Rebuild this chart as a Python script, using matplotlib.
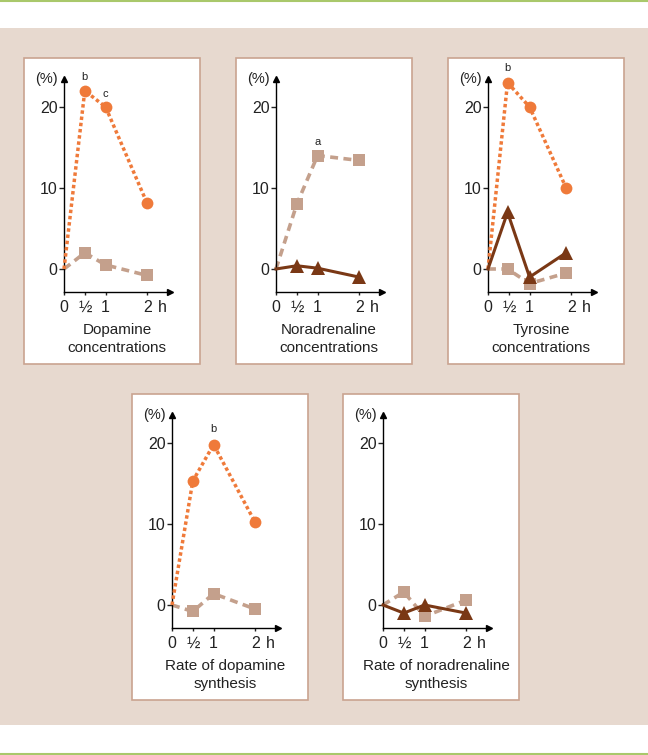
import matplotlib
matplotlib.use("Agg")
import matplotlib.pyplot as plt
from matplotlib.patches import Rectangle
from matplotlib.lines import Line2D

plt.rcParams['font.family'] = ['Liberation Sans', 'DejaVu Sans']

# data (percent change vs time in h)
times = [0, 0.5, 1, 2]
tyr_times = [0, 0.47, 1, 1.88]

dopa_conc_circle = [0, 22, 20, 8.1]
dopa_conc_square = [0, 2, 0.5, -0.8]

nora_conc_square = [0, 8, 14, 13.4]
nora_conc_tri = [0, 0.4, 0.1, -1]

tyr_conc_circle = [0, 23, 20, 10]
tyr_conc_tri = [0, 7, -1, 2]
tyr_conc_square = [0, 0, -1.8, -0.5]

dopa_rate_circle = [0, 15.3, 19.8, 10.2]
dopa_rate_square = [0, -0.8, 1.4, -0.5]

nora_rate_tri = [0, -1, 0, -1]
nora_rate_square = [0, 1.6, -1.4, 0.6]

titles = ["Dopamine\nconcentrations", "Noradrenaline\nconcentrations",
          "Tyrosine\nconcentrations", "Rate of dopamine\nsynthesis",
          "Rate of noradrenaline\nsynthesis"]

ORANGE = "#ef7a3a"
TAN = "#c4a08c"
BROWN = "#7a3815"
BEIGE = "#e7d9cf"
BORDER = "#c9a390"
GREEN = "#a9c86b"
TXT = "#222222"

W, H = 648, 755
fig = plt.figure(figsize=(W / 100, H / 100), dpi=100)
fig.patch.set_facecolor("white")


def fx(x):
    return x / W


def fy(y):
    return 1 - y / H


# background band and green rules
fig.patches.append(Rectangle((0, fy(725)), 1, (725 - 28) / H, transform=fig.transFigure,
                             facecolor=BEIGE, edgecolor="none", zorder=-3))
fig.lines.append(Line2D([0, 1], [fy(1), fy(1)], transform=fig.transFigure, color=GREEN, lw=1.5))
fig.lines.append(Line2D([0, 1], [fy(754), fy(754)], transform=fig.transFigure, color=GREEN, lw=1.5))


def panel(bl, bt, title, series, notes):
    # white box
    fig.patches.append(Rectangle((fx(bl), fy(bt + 306)), 176 / W, 306 / H, transform=fig.transFigure,
                                 facecolor="white", edgecolor=BORDER, lw=1.2, zorder=-2))
    ax = fig.add_axes([fx(bl + 40), fy(bt + 234), 106 / W, 213 / H])
    ax.set_zorder(1)
    ax.set_facecolor("none")
    ax.set_xlim(0, 2.55)
    ax.set_ylim(-2.84, 23.45)
    for s in ["top", "right"]:
        ax.spines[s].set_visible(False)
    for s in ["left", "bottom"]:
        ax.spines[s].set_linewidth(1.0)
        ax.spines[s].set_color("black")
    ax.plot(1, 0, ">", color="black", ms=5, transform=ax.transAxes, clip_on=False)
    ax.plot(0, 1, "^", color="black", ms=5, transform=ax.transAxes, clip_on=False)

    ax.set_yticks([0, 10, 20], ["0", "10", "20"])
    ax.set_xticks([0, 0.5, 1, 2], ["0", "½", "1", "2"])
    ax.set_xticks([2.37], ["h"], minor=True)
    ax.tick_params(axis="y", length=3.6, width=1, pad=1, labelsize=11.5, colors=TXT)
    ax.tick_params(axis="x", which="major", length=2.5, width=1, pad=3, labelsize=11.5, colors=TXT)
    ax.tick_params(axis="x", which="minor", length=0, pad=5.5, labelsize=11.5, colors=TXT)

    ax.text(-0.06, 1.0, "(%)", transform=ax.transAxes, ha="right", va="center",
            fontsize=10.5, color=TXT)

    for kind, xs, ys in series:
        if kind == "square":
            ax.plot(xs, ys, color=TAN, lw=2.6, ls=(0, (2.2, 1.5)), marker="s", ms=8,
                    mew=0, markevery=slice(1, None), zorder=2, clip_on=False)
        elif kind == "circle":
            ax.plot(xs, ys, color=ORANGE, lw=2.5, ls=(0, (1, 0.8)), marker="o", ms=8.5,
                    mew=0, markevery=slice(1, None), zorder=3, clip_on=False)
        else:
            ax.plot(xs, ys, color=BROWN, lw=2.2, ls="-", marker="^", ms=10,
                    mew=0, markevery=slice(1, None), zorder=4, clip_on=False)

    for letter, x, y, dy in notes:
        ax.annotate(letter, (x, y), xytext=(0, dy), textcoords="offset points",
                    ha="center", va="center", fontsize=8, color=TXT)

    fig.text(fx(bl + 93), fy(bt + 281), title, ha="center", va="center",
             fontsize=11, linespacing=1.35, color=TXT)


panel(24, 58, titles[0],
      [("square", times, dopa_conc_square), ("circle", times, dopa_conc_circle)],
      [("b", 0.5, 22, 10), ("c", 1, 20, 9.5)])
panel(236, 58, titles[1],
      [("square", times, nora_conc_square), ("tri", times, nora_conc_tri)],
      [("a", 1, 14, 9.5)])
panel(448, 58, titles[2],
      [("square", tyr_times, tyr_conc_square), ("circle", tyr_times, tyr_conc_circle),
       ("tri", tyr_times, tyr_conc_tri)],
      [("b", 0.47, 23, 10.5)])
panel(132, 394, titles[3],
      [("square", times, dopa_rate_square), ("circle", times, dopa_rate_circle)],
      [("b", 1, 19.8, 11)])
panel(343, 394, titles[4],
      [("square", times, nora_rate_square), ("tri", times, nora_rate_tri)],
      [])

fig.savefig("out.png", dpi=100, facecolor="white")
